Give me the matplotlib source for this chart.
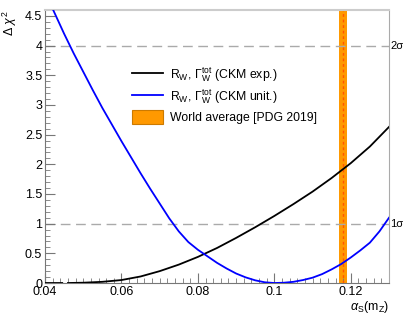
import numpy as np
import matplotlib
matplotlib.use("Agg")
import matplotlib.pyplot as plt
from matplotlib.ticker import MultipleLocator, FuncFormatter
from matplotlib.patches import Patch
from matplotlib.lines import Line2D

plt.rcParams['font.family'] = ['Liberation Sans', 'DejaVu Sans']
plt.rcParams['mathtext.fontset'] = 'custom'
plt.rcParams['mathtext.rm'] = 'Liberation Sans'
plt.rcParams['mathtext.it'] = 'Liberation Sans:italic'

# CKM unitarity curve
alpha_s_unit = [0.0400, 0.0425, 0.0450, 0.0475, 0.0500, 0.0525, 0.0550, 0.0575,
                0.0600, 0.0625, 0.0650, 0.0675, 0.0700, 0.0725, 0.0750, 0.0775,
                0.0800, 0.0825, 0.0850, 0.0875, 0.0900, 0.0925, 0.0950, 0.0975,
                0.1000, 0.1025, 0.1050, 0.1075, 0.1100, 0.1125, 0.1150, 0.1175,
                0.1200, 0.1225, 0.1250, 0.1275, 0.1300]
chi2_ckm_unit = [4.90, 4.55, 4.20, 3.87, 3.56, 3.25, 2.95, 2.67,
                 2.39, 2.12, 1.85, 1.59, 1.34, 1.09, 0.87, 0.69,
                 0.56, 0.45, 0.34, 0.245, 0.16, 0.095, 0.045, 0.012,
                 0.00, 0.005, 0.02, 0.05, 0.09, 0.15, 0.23, 0.32,
                 0.43, 0.55, 0.68, 0.87, 1.10]

# CKM experimental curve (short piece at zero on the far left, then a gap)
alpha_s_exp = [0.040, 0.0445, 0.0452, 0.046, 0.050, 0.055, 0.060, 0.065, 0.070,
               0.075, 0.080, 0.085, 0.090, 0.095, 0.100, 0.105, 0.110, 0.115,
               0.120, 0.125, 0.130]
chi2_ckm_exp = [0.0, 0.0, np.nan, 0.0, 0.005, 0.02, 0.05, 0.11, 0.20,
                0.31, 0.44, 0.59, 0.76, 0.94, 1.13, 1.33, 1.54, 1.77,
                2.02, 2.30, 2.63]

pdg_central = 0.1179
pdg_err = 0.0010
sigma_levels = [1, 4]
sigma_labels = ["1σ", "2σ"]

fig = plt.figure(figsize=(4.07, 3.2), dpi=100)
ax = fig.add_axes([0.1106, 0.1156, 0.8452, 0.8531])

ax.axvspan(pdg_central - pdg_err, pdg_central + pdg_err, color='#ff9900', lw=0, zorder=1)
ax.axvline(pdg_central, color='#ff5500', ls=(0, (2, 2)), lw=1.0, zorder=2)

for lvl, lab in zip(sigma_levels, sigma_labels):
    ax.axhline(lvl, color='#aaaaaa', ls=(0, (7, 4)), lw=1.0, zorder=1.5)
    ax.text(1.004, lvl, lab, transform=ax.get_yaxis_transform(), ha='left',
            va='center', fontsize=8)

ax.plot(alpha_s_exp, chi2_ckm_exp, color='black', lw=1.3, zorder=3)
ax.plot(alpha_s_unit, chi2_ckm_unit, color='#0000ff', lw=1.3, zorder=3)

ax.set_xlim(0.04, 0.13)
ax.set_ylim(0, 4.6)

ax.xaxis.set_major_locator(MultipleLocator(0.02))
ax.xaxis.set_minor_locator(MultipleLocator(0.002))
ax.yaxis.set_major_locator(MultipleLocator(0.5))
ax.yaxis.set_minor_locator(MultipleLocator(0.1))
fmt = FuncFormatter(lambda v, p: "%g" % round(v, 4))
ax.xaxis.set_major_formatter(fmt)
ax.yaxis.set_major_formatter(fmt)

ax.tick_params(which='both', direction='in', colors='#777777', labelcolor='black',
               labelsize=9, top=False, right=False)
ax.tick_params(which='major', length=7, pad=2)
ax.tick_params(which='minor', length=3.5)
for s in ['left', 'bottom']:
    ax.spines[s].set_color('#777777')
ax.spines['top'].set_color('#cccccc')
ax.spines['top'].set_linewidth(1.5)
ax.spines['right'].set_color('#aaaaaa')

ax.set_ylabel(r"$\Delta\ \chi^{2}$", fontsize=9, loc='top', labelpad=4)
ax.set_xlabel(r"$\alpha_{\rm S}$(m$_{\rm Z}$)", fontsize=9, loc='right', labelpad=1)

handles = [Line2D([], [], color='black', lw=1.3),
           Line2D([], [], color='#0000ff', lw=1.3),
           Patch(facecolor='#ff9900', edgecolor='#cc7a00', lw=0.8)]
labels = [r"R$_{\rm W}$, $\Gamma_{\rm W}^{\rm tot}$ (CKM exp.)",
          r"R$_{\rm W}$, $\Gamma_{\rm W}^{\rm tot}$ (CKM unit.)",
          "World average [PDG 2019]"]
ax.legend(handles, labels, loc='upper left', bbox_to_anchor=(0.24, 0.815),
          frameon=False, fontsize=8.8, handlelength=2.5, handleheight=1.4,
          labelspacing=0.3, handletextpad=0.55, borderaxespad=0)

fig.savefig("out.png", dpi=100)
